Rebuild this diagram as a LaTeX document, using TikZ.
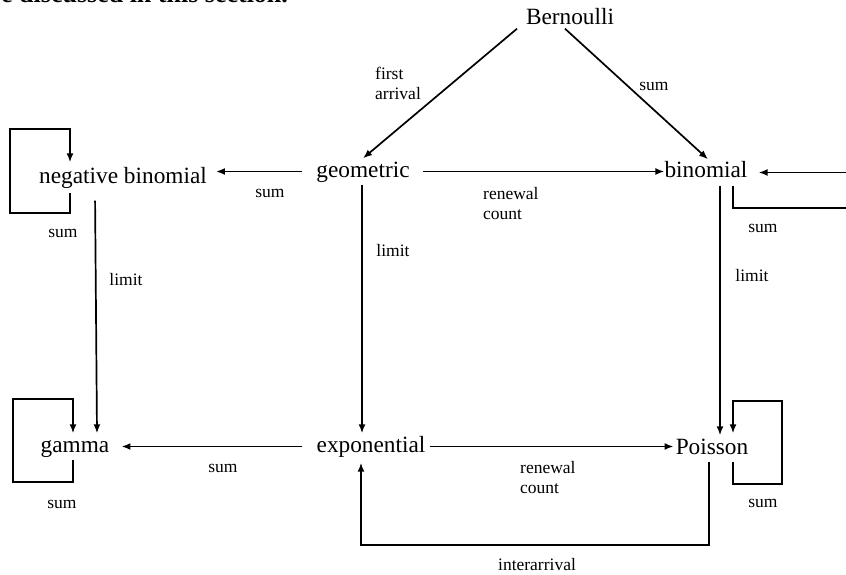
\documentclass[tikz,border=0pt]{standalone}
\usepackage{fontspec}
\setmainfont{Liberation Serif}
\usetikzlibrary{arrows.meta}

\tikzset{
  dist/.style={inner sep=0pt, minimum height=26pt, text height=16pt, text depth=5pt,
    font=\fontsize{23.3}{26}\selectfont, anchor=base},
  lbl/.style={inner sep=0pt, align=left, font=\fontsize{17.5}{20}\selectfont},
  ln/.style={line width=1.7pt},
  arr/.style={ln, -{Latex[length=9pt,width=7pt]}}
}

\begin{document}
\begin{tikzpicture}[x=1pt, y=-1pt]
    \useasboundingbox (0,0) rectangle (846,575);

    \node[anchor=base west, inner sep=0pt, font=\fontsize{26}{28}\selectfont\bfseries] (intro) at (1,3) {e discussed in this section.};

    \node[dist] (ber) at (570,25) {Bernoulli};
    \node[dist] (geo) at (363,177) {geometric};
    \node[dist] (bin) at (706,178) {binomial};
    \node[dist] (neg) at (123,183) {negative binomial};
    \node[dist] (gam) at (75,452) {gamma};
    \node[dist] (expo) at (371,452) {exponential};
    \node[dist] (poi) at (712,454) {Poisson};

    \draw[arr] ([xshift=-53pt,yshift=4pt]ber.south) -- (geo.north);
    \draw[arr] ([xshift=-5pt,yshift=4pt]ber.south) -- ([xshift=2pt]bin.north);
    \node[lbl, anchor=north west] (lfirst) at (375,67) {first\\arrival};
    \node[lbl] (lsum1) at (654,86) {sum};

    \draw[arr, shorten <=13pt] (geo.east) -- (geo.east -| bin.west);
    \node[lbl, anchor=north west] (lren1) at (483,187) {renewal\\count};
    \draw[arr, shorten <=14pt, shorten >=9pt] (geo.west) -- (geo.west -| neg.east);
    \node[lbl] (lsum2) at (270,193) {sum};

    \draw[arr] ([xshift=-1pt]geo.south) -- ([xshift=-1pt]geo.south |- expo.north);
    \node[lbl] (llim1) at (393,251) {limit};
    \draw[arr] ([xshift=14pt]bin.south) -- ([xshift=14pt]bin.south |- poi.north);
    \node[lbl] (llim2) at (752,276) {limit};
    \draw[arr, shorten <=10pt] ([xshift=-28pt]neg.south) -- ([xshift=22pt]gam.north);
    \node[lbl] (llim3) at (126,280) {limit};

    % loops
    \draw[arr] ([xshift=-53pt,yshift=-2pt]neg.south) -- ++(0,20) -- ++(-60,0) -- ++(0,-84) -| ([xshift=-53pt,yshift=2pt]neg.north);
    \node[lbl] (lsum3) at (63,233) {sum};
    \draw[arr] ([xshift=27pt]bin.south) |- ++(140,22) |- ([xshift=11pt]bin.east);
    \node[lbl] (lsum4) at (763,228) {sum};
    \draw[arr] ([xshift=-2pt]gam.south) -- ++(0,22) -- ++(-60,0) -- ++(0,-83) -| ([xshift=-2pt]gam.north);
    \node[lbl] (lsum5) at (62,504) {sum};
    \draw[arr] ([xshift=21pt]poi.south) -- ++(0,22) -- ++(49,0) -- ++(0,-83) -| ([xshift=21pt,yshift=2pt]poi.north);
    \node[lbl] (lsum6) at (763,503) {sum};

    \draw[arr, shorten <=14pt, shorten >=12pt] (expo.west) -- (expo.west -| gam.east);
    \node[lbl] (lsum7) at (223,468) {sum};
    \draw[arr, shorten <=4pt, shorten >=2pt] (expo.east) -- (expo.east -| poi.west);
    \node[lbl, anchor=north west] (lren2) at (520,461) {renewal\\count};
    \draw[arr] ([xshift=-3pt]poi.south) -- ++(0,83) -| ([xshift=-10pt,yshift=-3pt]expo.south);
    \node[lbl] (linter) at (537,565) {interarrival};
\end{tikzpicture}
\end{document}
